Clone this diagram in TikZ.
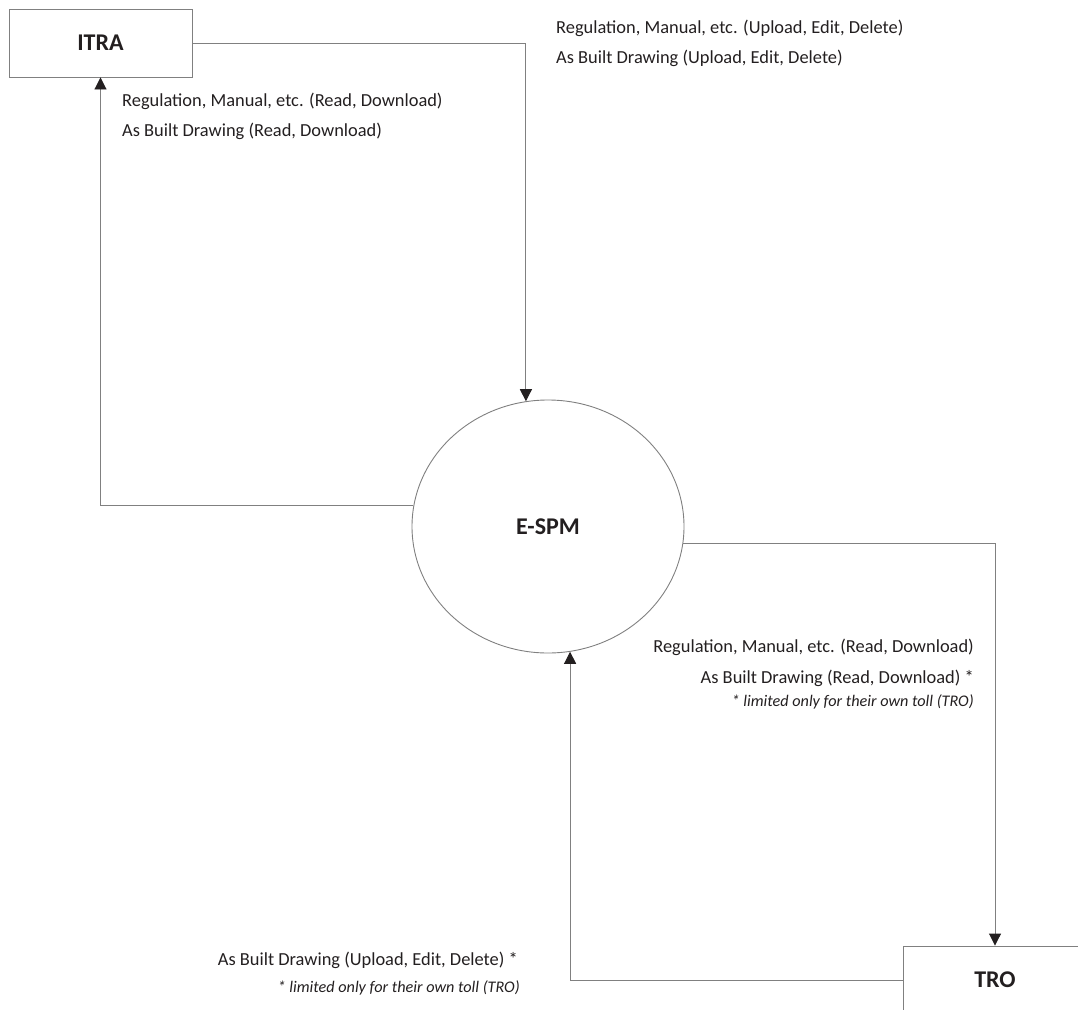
\documentclass[tikz,border=0pt]{standalone}
\usepackage{fontspec}
\setmainfont{Carlito}
\usetikzlibrary{arrows.meta,shapes.geometric}
\definecolor{linegray}{RGB}{128,128,128}
\definecolor{textdark}{RGB}{35,31,32}
\tikzset{
  boxnode/.style={draw=linegray, line width=0.9pt, minimum width=183pt, minimum height=68pt, inner sep=0pt,
    text=textdark, font=\bfseries\fontsize{24}{28}\selectfont},
  procnode/.style={ellipse, draw=linegray, line width=0.9pt, minimum width=272pt, minimum height=253pt, inner sep=0pt,
    text=textdark, font=\bfseries\fontsize{24}{28}\selectfont},
  conn/.style={draw=linegray, line width=0.9pt, -{Triangle[length=12pt,width=12pt,color=textdark]}},
  lbl/.style={inner sep=0pt, text=textdark, font=\fontsize{18.4}{22}\selectfont},
  note/.style={inner sep=0pt, text=textdark, font=\itshape\fontsize{16.2}{20}\selectfont}
}
\begin{document}
\begin{tikzpicture}[x=1pt, y=-1pt]
\useasboundingbox (0,0) rectangle (1078,1009);
\clip (0,0) rectangle (1078,1009);
\node[boxnode] (itra) at (100.5,43) {ITRA};
\node[procnode] (espm) at (548,526.5) {E-SPM};
\node[boxnode, minimum width=184pt] (tro) at (995,980) {TRO};

\draw[conn] (itra.east) -| (espm.100);
\draw[conn] (espm.171.6) -| (itra.south);
\draw[conn] (espm.-7.4) -| (tro.north);
\draw[conn] (tro.west) -| (espm.-80);

\node[lbl, anchor=base west] (t1) at (556,33) {Regulation, Manual, etc. (Upload, Edit, Delete)};
\node[lbl, anchor=base west] (t2) at (556,63) {As Built Drawing (Upload, Edit, Delete)};
\node[lbl, anchor=base west] (i1) at (122,106) {Regulation, Manual, etc. (Read, Download)};
\node[lbl, anchor=base west] (i2) at (122,136) {As Built Drawing (Read, Download)};
\node[lbl, anchor=base east] (r1) at (974,652) {Regulation, Manual, etc. (Read, Download)};
\node[lbl, anchor=base east] (r2) at (974,683) {As Built Drawing (Read, Download) *};
\node[note, anchor=base east] (r3) at (974,706) {* limited only for their own toll (TRO)};
\node[lbl, anchor=base east] (b1) at (518,965) {As Built Drawing (Upload, Edit, Delete) *};
\node[note, anchor=base east] (b2) at (520,992) {* limited only for their own toll (TRO)};
\end{tikzpicture}
\end{document}
